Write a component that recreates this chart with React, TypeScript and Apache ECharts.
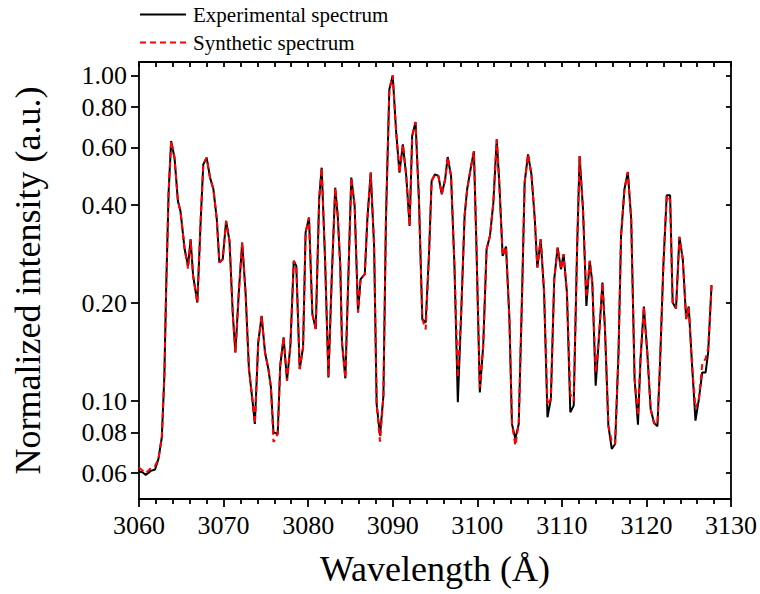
import React, { useEffect, useRef } from "react";
import * as echarts from "echarts";

const FONT = "Liberation Serif";

const wavelength = [
  3060.0, 3060.4, 3060.8, 3061.4, 3061.9, 3062.3, 3062.7, 3063.0, 3063.2, 3063.5,
  3063.8, 3064.2, 3064.6, 3064.9, 3065.4, 3065.8, 3066.1, 3066.4, 3066.9, 3067.3,
  3067.6, 3068.0, 3068.4, 3068.8, 3069.2, 3069.5, 3069.9, 3070.3, 3070.7, 3071.1,
  3071.4, 3071.8, 3072.2, 3072.6, 3073.0, 3073.4, 3073.7, 3074.1, 3074.5, 3074.9,
  3075.3, 3075.6, 3075.9, 3076.4, 3076.7, 3077.1, 3077.5, 3077.9, 3078.3, 3078.6,
  3079.0, 3079.4, 3079.7, 3080.1, 3080.5, 3080.9, 3081.3, 3081.6, 3082.0, 3082.4,
  3082.8, 3083.2,
  3083.5, 3083.8, 3084.0, 3084.4, 3084.7, 3085.1, 3085.5, 3085.9, 3086.2, 3086.7,
  3087.0, 3087.4, 3087.8, 3088.1, 3088.5, 3088.9, 3089.2, 3089.6, 3090.0, 3090.4,
  3090.8, 3091.2, 3091.6, 3092.0, 3092.3, 3092.7, 3093.1, 3093.5, 3093.9, 3094.3,
  3094.6, 3095.0, 3095.4, 3095.8, 3096.2, 3096.5, 3096.9, 3097.3, 3097.7, 3098.1,
  3098.5, 3098.8, 3099.2, 3099.6, 3099.9, 3100.3, 3100.7, 3101.1, 3101.5, 3101.9,
  3102.3, 3102.6, 3103.0, 3103.4, 3103.8, 3104.1, 3104.5, 3104.9, 3105.3, 3105.6,
  3106.0, 3106.4,
  3106.8, 3107.1, 3107.5, 3107.9, 3108.3, 3108.7, 3109.1, 3109.5, 3109.9, 3110.2,
  3110.6, 3111.0, 3111.4, 3111.8, 3112.1, 3112.5, 3112.9, 3113.3, 3113.6, 3114.0,
  3114.4, 3114.8, 3115.1, 3115.5, 3115.9, 3116.3, 3116.7, 3117.0, 3117.4, 3117.8,
  3118.2, 3118.6, 3119.0, 3119.3, 3119.7, 3120.1, 3120.5, 3120.9, 3121.3, 3121.6,
  3122.0, 3122.4, 3122.8, 3123.1, 3123.5, 3123.9, 3124.3, 3124.7, 3125.0, 3125.4,
  3125.8, 3126.2, 3126.6, 3127.0, 3127.3, 3127.7,
];

const experimental = [
  0.0607, 0.0604, 0.0593, 0.061, 0.0616, 0.0664, 0.0774, 0.1196, 0.2154, 0.4366,
  0.629, 0.559, 0.4115, 0.3836, 0.2925, 0.2601, 0.314, 0.2424, 0.2007, 0.3617,
  0.5333, 0.559, 0.4855, 0.447, 0.3617, 0.2663, 0.2726, 0.3575, 0.3103, 0.1827,
  0.141, 0.2154, 0.3067, 0.2154, 0.1254, 0.1014, 0.085, 0.1514, 0.1827, 0.141,
  0.1254, 0.1101, 0.0801, 0.0792, 0.1284, 0.1568, 0.1154, 0.1478, 0.2694, 0.2601,
  0.1254, 0.1461, 0.3292, 0.366, 0.1849, 0.1663, 0.4164, 0.5209, 0.2726, 0.1182,
  0.2424, 0.4522,
  0.3703, 0.2601, 0.1514, 0.1174, 0.2154, 0.4855, 0.3973, 0.1871, 0.2367, 0.2453,
  0.3617, 0.5029, 0.2995, 0.0979, 0.0783, 0.1038, 0.3617, 0.906, 1.0, 0.675,
  0.5029, 0.614, 0.4913, 0.345, 0.6515, 0.7192, 0.4164, 0.1784, 0.1743, 0.2858,
  0.4742, 0.4971, 0.4913, 0.4315, 0.4797, 0.5617, 0.4913, 0.2601, 0.0991, 0.1871,
  0.3703, 0.447, 0.5148, 0.5858, 0.2995, 0.1063, 0.1478, 0.2925, 0.3216, 0.4067,
  0.6364, 0.4687, 0.2792, 0.2981, 0.1784, 0.085, 0.0765, 0.085, 0.2154, 0.4687,
  0.5723, 0.4971,
  0.3617, 0.257, 0.314, 0.2154, 0.0891, 0.1014, 0.2367, 0.296, 0.254, 0.2825,
  0.2154, 0.0923, 0.0968, 0.2925, 0.5656, 0.3882, 0.196, 0.2694, 0.2312, 0.1114,
  0.1586, 0.2312, 0.1663, 0.084, 0.0713, 0.0738, 0.141, 0.3216, 0.447, 0.5053,
  0.3617, 0.1168, 0.0846, 0.1345, 0.1951, 0.141, 0.0945, 0.0856, 0.0836, 0.1284,
  0.2601, 0.4284, 0.4284, 0.2007, 0.1924, 0.3192, 0.2726, 0.1784, 0.1951, 0.1284,
  0.087, 0.1014, 0.1224, 0.1224, 0.141, 0.2269,
];

const synthetic = [
  0.0625, 0.0612, 0.06, 0.0622, 0.0632, 0.0664, 0.0774, 0.1196, 0.2154, 0.4366,
  0.629, 0.559, 0.4115, 0.3836, 0.2925, 0.255, 0.314, 0.2424, 0.2007, 0.3617,
  0.5333, 0.559, 0.4855, 0.447, 0.3617, 0.2663, 0.2726, 0.3575, 0.3103, 0.1827,
  0.141, 0.2154, 0.3067, 0.2154, 0.1254, 0.1014, 0.085, 0.1514, 0.1827, 0.141,
  0.1254, 0.1101, 0.0748, 0.0792, 0.1284, 0.1568, 0.1154, 0.1478, 0.2694, 0.2601,
  0.1254, 0.1461, 0.3292, 0.366, 0.1849, 0.1663, 0.4164, 0.5209, 0.2726, 0.1182,
  0.2424, 0.4522,
  0.3703, 0.2601, 0.1514, 0.1174, 0.2154, 0.4855, 0.3973, 0.1871, 0.2367, 0.2453,
  0.3617, 0.5029, 0.2995, 0.0979, 0.075, 0.1038, 0.3617, 0.906, 1.0, 0.675,
  0.5029, 0.614, 0.4913, 0.345, 0.6515, 0.7192, 0.4164, 0.1784, 0.166, 0.2858,
  0.4742, 0.4971, 0.4913, 0.4315, 0.4797, 0.5617, 0.4913, 0.2601, 0.118, 0.1871,
  0.3703, 0.447, 0.5148, 0.5858, 0.2995, 0.11, 0.1478, 0.2925, 0.3216, 0.4067,
  0.6364, 0.4687, 0.2792, 0.2981, 0.1784, 0.085, 0.073, 0.085, 0.2154, 0.4687,
  0.5723, 0.4971,
  0.3617, 0.257, 0.314, 0.2154, 0.097, 0.1014, 0.2367, 0.296, 0.254, 0.2825,
  0.2154, 0.105, 0.1, 0.2925, 0.5656, 0.3882, 0.208, 0.2694, 0.2312, 0.122,
  0.1586, 0.2312, 0.1663, 0.084, 0.075, 0.0738, 0.141, 0.3216, 0.447, 0.5053,
  0.3617, 0.1168, 0.09, 0.1345, 0.1951, 0.141, 0.0945, 0.0856, 0.085, 0.1284,
  0.2601, 0.4284, 0.415, 0.2007, 0.1924, 0.3192, 0.2726, 0.1784, 0.1951, 0.1284,
  0.095, 0.1014, 0.13, 0.135, 0.145, 0.2269,
];

const yTickValues = [0.06, 0.08, 0.1, 0.2, 0.4, 0.6, 0.8, 1.0];
const X_MIN = 3060;
const X_MAX = 3130;
const X_INTERVAL = 10;
const Y_MIN = 0.05;
const Y_MAX = 1.1;

export default function App() {
  const ref = useRef<HTMLDivElement>(null);
  useEffect(() => {
    if (!ref.current) return;
    const chart = echarts.init(ref.current, null, { renderer: "svg" });
    const logTicks = yTickValues.map((v) => Math.log10(v));
    const logMin = Math.log10(Y_MIN);
    const logMax = Math.log10(Y_MAX);
    const axisColor = "#000";
    const lineW = 1.8;
    const expData = wavelength.map((w, i) => [w, experimental[i]]);
    const synData = wavelength.map((w, i) => [w, synthetic[i]]);
    const labelStyle = {
      fontFamily: FONT,
      fontSize: 26,
      color: "#000",
      fontWeight: "normal" as const,
    };

    chart.setOption({
      animation: false,
      textStyle: { fontFamily: FONT, color: "#000" },
      legend: {
        orient: "vertical",
        left: 139,
        top: 4,
        padding: 0,
        itemWidth: 46,
        itemHeight: 14,
        itemGap: 7,
        itemStyle: { opacity: 0 },
        textStyle: { fontFamily: FONT, fontSize: 21, color: "#000", lineHeight: 21, padding: [0, 0, 0, 2] },
        data: ["Experimental spectrum", "Synthetic spectrum"],
      },
      grid: { left: 139, right: 29, top: 62, bottom: 95, containLabel: false },
      xAxis: [
        {
          type: "value",
          position: "bottom",
          min: X_MIN,
          max: X_MAX,
          interval: X_INTERVAL,
          name: "Wavelength (Å)",
          nameLocation: "middle",
          nameGap: 52,
          nameTextStyle: { fontFamily: FONT, fontSize: 36, color: "#000" },
          axisLine: { show: true, onZero: false, lineStyle: { color: axisColor, width: lineW } },
          axisTick: { show: true, inside: false, length: 8, lineStyle: { color: axisColor, width: lineW } },
          minorTick: { show: true, splitNumber: 5, length: 5, lineStyle: { color: axisColor, width: lineW } },
          axisLabel: {
            ...labelStyle,
            margin: 13,
            formatter: (v: number) => String(Math.round(v)),
          },
          splitLine: { show: false },
          minorSplitLine: { show: false },
        },
        {
          type: "value",
          position: "top",
          min: X_MIN,
          max: X_MAX,
          interval: X_INTERVAL,
          axisLine: { show: true, onZero: false, lineStyle: { color: axisColor, width: lineW } },
          axisTick: { show: true, inside: true, length: 5, lineStyle: { color: axisColor, width: lineW } },
          minorTick: { show: true, splitNumber: 5, length: 5, lineStyle: { color: axisColor, width: lineW } },
          axisLabel: { show: false },
          splitLine: { show: false },
          minorSplitLine: { show: false },
        },
      ],
      yAxis: [
        {
          type: "log",
          logBase: 10,
          min: Y_MIN,
          max: Y_MAX,
          position: "left",
          axisLine: { show: true, onZero: false, lineStyle: { color: axisColor, width: lineW } },
          axisTick: { show: false },
          minorTick: { show: false },
          axisLabel: { show: false },
          splitLine: { show: false },
          minorSplitLine: { show: false },
        },
        {
          type: "value",
          position: "left",
          min: logMin,
          max: logMax,
          name: "Normalized intensity (a.u.)",
          nameLocation: "middle",
          nameGap: 93,
          nameTextStyle: { fontFamily: FONT, fontSize: 36, color: "#000" },
          axisLine: { show: false, onZero: false },
          axisTick: { show: true, inside: false, length: 8, customValues: logTicks, lineStyle: { color: axisColor, width: lineW } },
          axisLabel: {
            ...labelStyle,
            customValues: logTicks,
            formatter: (v: number) => Math.pow(10, v).toFixed(2),
            margin: 12,
          },
          splitLine: { show: false },
        },
        {
          type: "value",
          position: "right",
          min: logMin,
          max: logMax,
          axisLine: { show: true, onZero: false, lineStyle: { color: axisColor, width: lineW } },
          axisTick: { show: true, inside: true, length: 5, customValues: logTicks, lineStyle: { color: axisColor, width: lineW } },
          axisLabel: { show: false },
          splitLine: { show: false },
        },
      ],
      series: [
        {
          type: "line",
          name: "Experimental spectrum",
          xAxisIndex: 0,
          yAxisIndex: 0,
          data: expData,
          symbol: "none",
          showSymbol: false,
          itemStyle: { color: "#000" },
          lineStyle: { color: "#000", width: 2 },
          z: 2,
        },
        {
          type: "line",
          name: "Synthetic spectrum",
          xAxisIndex: 0,
          yAxisIndex: 0,
          data: synData,
          symbol: "none",
          showSymbol: false,
          itemStyle: { color: "#ff0000" },
          lineStyle: { color: "#ff0000", width: 2, type: [6, 4] },
          z: 3,
        },
      ],
    });
    return () => chart.dispose();
  }, []);
  return (
    <div
      ref={ref}
      style={{ position: "absolute", left: 0, top: 0, width: 760, height: 594, background: "#fff" }}
    />
  );
}
